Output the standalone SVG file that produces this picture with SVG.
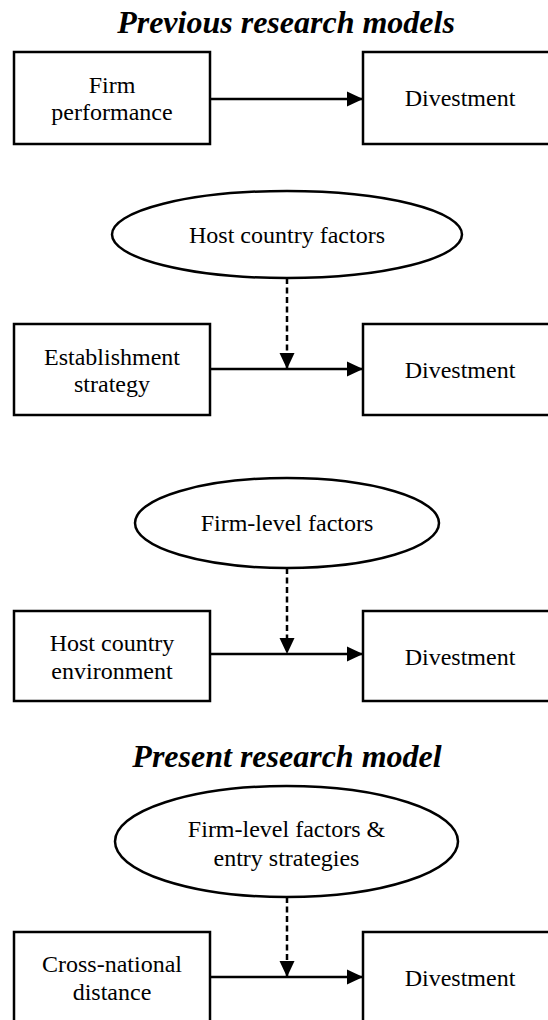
<svg xmlns="http://www.w3.org/2000/svg" width="548" height="1020" viewBox="0 0 548 1020">
  <style>
    .box { fill: #fff; stroke: #000; stroke-width: 2.5; }
    .oval { fill: #fff; stroke: #000; stroke-width: 2.5; }
    .lbl { font-family: "Liberation Serif", "Times New Roman", serif; font-size: 24px; fill: #000; text-anchor: middle; }
    .title { font-family: "Liberation Serif", "Times New Roman", serif; font-size: 32px; font-weight: bold; font-style: italic; fill: #000; text-anchor: middle; }
    .link { stroke: #000; stroke-width: 2.5; fill: none; marker-end: url(#head); }
    .mod { stroke: #000; stroke-width: 2.5; fill: none; stroke-dasharray: 6 3.5; marker-end: url(#head); }
  </style>
  <defs>
    <marker id="head" markerUnits="userSpaceOnUse" markerWidth="18" markerHeight="18" viewBox="0 0 18 18" refX="16" refY="9" orient="auto">
      <path d="M0,1.5 L16,9 L0,16.5 Z" fill="#000"/>
    </marker>
  </defs>

  <rect width="548" height="1020" fill="#fff"/>

  <!-- section headings -->
  <text id="title-previous" class="title" x="286" y="33">Previous research models</text>
  <text id="title-present" class="title" x="287" y="767">Present research model</text>

  <!-- model 1: performance -> divestment -->
  <g id="firm-performance">
    <rect class="box" x="14" y="52" width="196" height="92"/>
    <text class="lbl" x="112" y="93">Firm</text>
    <text class="lbl" x="112" y="120">performance</text>
  </g>
  <g id="divestment-1">
    <rect class="box" x="363" y="52" width="194" height="92"/>
    <text class="lbl" x="460" y="106">Divestment</text>
  </g>

  <!-- model 2: establishment strategy, moderated by host country factors -->
  <g id="host-country-factors">
    <ellipse class="oval" cx="287" cy="234.5" rx="175" ry="43.5"/>
    <text class="lbl" x="287" y="243">Host country factors</text>
  </g>
  <g id="establishment-strategy">
    <rect class="box" x="14" y="324" width="196" height="91"/>
    <text class="lbl" x="112" y="365">Establishment</text>
    <text class="lbl" x="112" y="392">strategy</text>
  </g>
  <g id="divestment-2">
    <rect class="box" x="363" y="324" width="194" height="91"/>
    <text class="lbl" x="460" y="378">Divestment</text>
  </g>

  <!-- model 3: host country environment, moderated by firm-level factors -->
  <g id="firm-level-factors">
    <ellipse class="oval" cx="287" cy="523" rx="152" ry="45"/>
    <text class="lbl" x="287" y="531">Firm-level factors</text>
  </g>
  <g id="host-country-environment">
    <rect class="box" x="14" y="611" width="196" height="90"/>
    <text class="lbl" x="112" y="651">Host country</text>
    <text class="lbl" x="112" y="679">environment</text>
  </g>
  <g id="divestment-3">
    <rect class="box" x="363" y="611" width="194" height="90"/>
    <text class="lbl" x="460" y="665">Divestment</text>
  </g>

  <!-- present model: cross-national distance, moderated by firm-level factors and entry strategies -->
  <g id="firm-level-entry">
    <ellipse class="oval" cx="286.5" cy="841.5" rx="171.5" ry="55.5"/>
    <text class="lbl" x="286.5" y="837">Firm-level factors &amp;</text>
    <text class="lbl" x="286.5" y="866">entry strategies</text>
  </g>
  <g id="cross-national-distance">
    <rect class="box" x="14" y="932" width="196" height="92"/>
    <text class="lbl" x="112" y="972">Cross-national</text>
    <text class="lbl" x="112" y="1000">distance</text>
  </g>
  <g id="divestment-4">
    <rect class="box" x="363" y="932" width="194" height="92"/>
    <text class="lbl" x="460" y="986">Divestment</text>
  </g>

  <!-- connectors -->
  <g id="connectors">
    <line class="link" x1="210" y1="99" x2="363" y2="99"/>
    <line class="link" x1="210" y1="369" x2="363" y2="369"/>
    <line class="mod" x1="287" y1="278" x2="287" y2="369"/>
    <line class="link" x1="210" y1="654" x2="363" y2="654"/>
    <line class="mod" x1="287" y1="568" x2="287" y2="654"/>
    <line class="link" x1="210" y1="977" x2="363" y2="977"/>
    <line class="mod" x1="287" y1="897" x2="287" y2="977"/>
  </g>
</svg>
